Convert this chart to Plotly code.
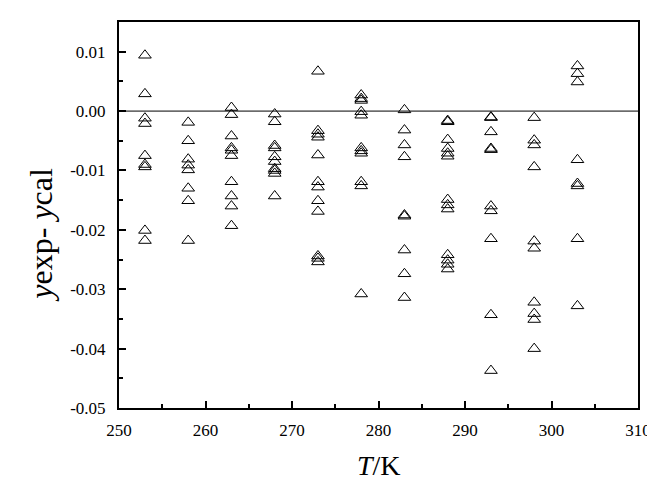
import plotly.graph_objects as go

T253 = [0.0094, 0.0029, -0.0012, -0.0021, -0.0075, -0.0090, -0.0094, -0.0201, -0.0218]
T258 = [-0.0019, -0.0050, -0.0081, -0.0091, -0.0099, -0.0130, -0.0151, -0.0218]
T263 = [0.0006, -0.0006, -0.0042, -0.0062, -0.0066, -0.0075, -0.0119, -0.0143, -0.0160, -0.0193]
T268 = [-0.0005, -0.0018, -0.0058, -0.0062, -0.0077, -0.0085, -0.0097, -0.0100, -0.0105, -0.0143]
T273 = [0.0067, -0.0033, -0.0039, -0.0044, -0.0074, -0.0119, -0.0128, -0.0151, -0.0169, -0.0244, -0.0248, -0.0254]
T278 = [0.0027, 0.0021, 0.0018, -0.0001, -0.0007, -0.0062, -0.0067, -0.0071, -0.0119, -0.0126, -0.0308]
T283 = [0.0002, -0.0032, -0.0057, -0.0077, -0.0175, -0.0177, -0.0234, -0.0274, -0.0314]
T288 = [-0.0016, -0.0018, -0.0048, -0.0063, -0.0071, -0.0076, -0.0149, -0.0158, -0.0165, -0.0242, -0.0251, -0.0258, -0.0266]
T293 = [-0.0010, -0.0011, -0.0035, -0.0063, -0.0065, -0.0160, -0.0168, -0.0215, -0.0343, -0.0437]
T298 = [-0.0011, -0.0049, -0.0057, -0.0094, -0.0219, -0.0231, -0.0322, -0.0341, -0.0351, -0.0400]
T303 = [0.0076, 0.0063, 0.0049, -0.0082, -0.0122, -0.0126, -0.0215, -0.0328]

temps = [253, 258, 263, 268, 273, 278, 283, 288, 293, 298, 303]
groups = [T253, T258, T263, T268, T273, T278, T283, T288, T293, T298, T303]

xs, ys = [], []
for t, g in zip(temps, groups):
    xs += [t] * len(g)
    ys += g

y_ticks = [0.01, 0.00, -0.01, -0.02, -0.03, -0.04, -0.05]
y_tick_text = ["0.01", "0.00", "-0.01", "-0.02", "-0.03", "-0.04", "-0.05"]
x_ticks = [250, 260, 270, 280, 290, 300, 310]

font_family = "Liberation Serif, Times New Roman, serif"

fig = go.Figure()
fig.add_trace(go.Scatter(
    x=xs, y=ys, mode="markers",
    marker=dict(symbol="triangle-up-open", size=11, color="black", line=dict(width=1, color="black")),
    showlegend=False,
    cliponaxis=False,
))
fig.add_shape(type="line", xref="paper", yref="y", x0=0, x1=1, y0=0, y1=0,
              line=dict(color="black", width=1))

fig.add_annotation(text="<i>T</i>/K", xref="paper", yref="paper", x=0.5, y=0,
                   xanchor="center", yanchor="bottom", yshift=-75, showarrow=False,
                   font=dict(size=28, family=font_family, color="black"))
fig.add_annotation(text="<i>y</i>exp- <i>y</i>cal", xref="paper", yref="paper", x=0, y=0.449,
                   xanchor="center", yanchor="middle", xshift=-78, textangle=-90, showarrow=False,
                   font=dict(size=32, family=font_family, color="black"))

fig.update_layout(
    width=655, height=481,
    margin=dict(l=111, r=13, t=14, b=81),
    paper_bgcolor="white", plot_bgcolor="white",
    font=dict(family=font_family, color="black", size=17),
    xaxis=dict(
        range=[250, 310], tickvals=x_ticks, ticks="inside", ticklen=7, tickwidth=1.5,
        tickcolor="black", showline=True, linecolor="black", linewidth=2, mirror=True,
        showgrid=False, zeroline=False, ticklabelstandoff=6,
        minor=dict(dtick=5, tick0=250, ticks="inside", ticklen=4, tickwidth=1.5, tickcolor="black"),
        tickfont=dict(size=17, family=font_family),
    ),
    yaxis=dict(
        range=[-0.05, 0.015], tickvals=y_ticks, ticktext=y_tick_text, ticks="inside", ticklen=7,
        tickwidth=1.5, tickcolor="black", showline=True, linecolor="black", linewidth=2, mirror=True,
        showgrid=False, zeroline=False, ticklabelstandoff=8,
        minor=dict(dtick=0.005, tick0=0, ticks="inside", ticklen=4, tickwidth=1.5, tickcolor="black"),
        tickfont=dict(size=17, family=font_family),
    ),
)

fig.write_html("out.html")
